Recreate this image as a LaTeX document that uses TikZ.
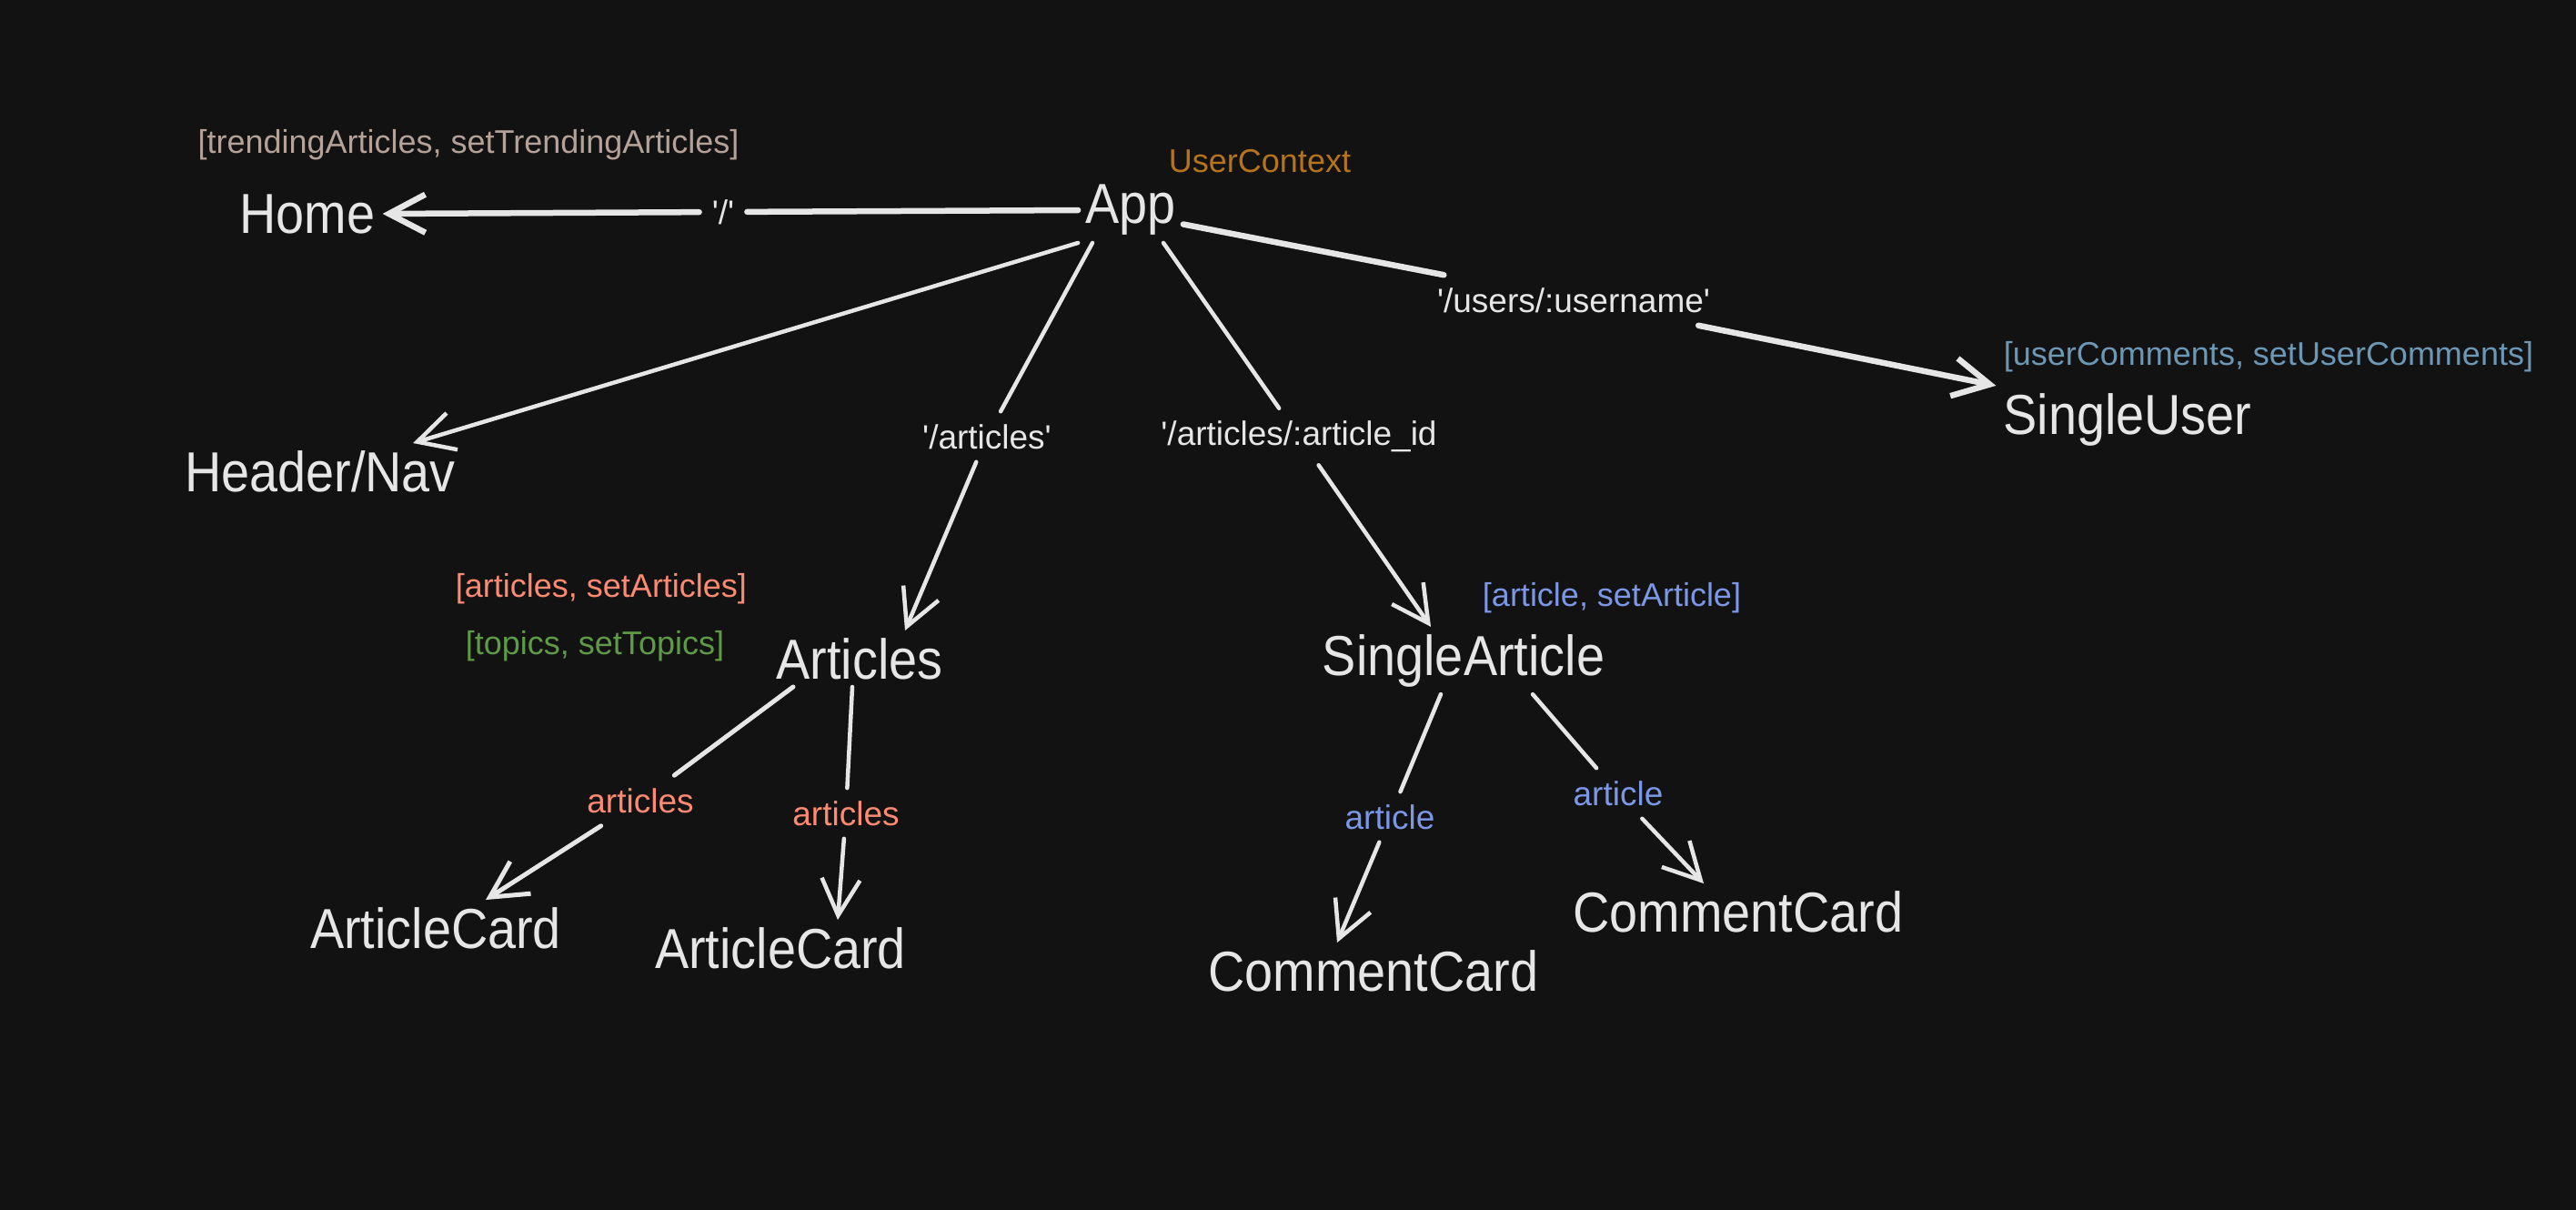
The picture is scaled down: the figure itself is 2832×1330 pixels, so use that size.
\documentclass[tikz,border=0pt]{standalone}
\usepackage{fontspec}
\setmainfont{Liberation Sans}
\newfontfamily\compfont{Liberation Sans}[FakeStretch=0.9]
\usetikzlibrary{arrows.meta}

\definecolor{bgcol}{HTML}{121212}
\definecolor{inkcol}{HTML}{E6E6E6}
\definecolor{ctxcol}{HTML}{B5731C}
\definecolor{trendcol}{HTML}{B4A298}
\definecolor{ucomcol}{HTML}{6C98B6}
\definecolor{artcol}{HTML}{FF8A72}
\definecolor{topcol}{HTML}{5E9A47}
\definecolor{onecol}{HTML}{7C97E6}

\newcommand{\sq}{\textquotesingle}

\tikzset{
  comp/.style={text=inkcol, inner sep=8pt, font=\compfont\fontsize{62}{68}\selectfont},
  route/.style={text=inkcol, inner sep=14pt, font=\fontsize{37}{42}\selectfont},
  hook/.style={inner sep=0pt, font=\fontsize{36}{40}\selectfont},
  conn/.style={draw=inkcol, line width=4.5pt, line cap=round,
    -{Straight Barb[length=40pt,width=42pt]}},
}

\begin{document}
\begin{tikzpicture}[x=1pt,y=-1pt]
  \fill[bgcol] (0,0) rectangle (2832,1330);
  \useasboundingbox (0,0) rectangle (2832,1330);

  \def \Comps {
    app/1243/231/App,
    home/338/235/Home,
    hdr/352/518/{Header/Nav},
    suser/2339/461/SingleUser,
    arts/945/724/Articles,
    sart/1609/726/SingleArticle,
    acard1/479/1020/ArticleCard,
    acard2/858/1042/ArticleCard,
    ccard1/1510/1067/CommentCard,
    ccard2/1911/1002/CommentCard}
  \foreach \id / \x / \y / \w in \Comps {
    \node[comp] (\id) at (\x, \y) {\w};
  }

  % state and context
  \node[hook, text=ctxcol] (ctx) at (1385,177) {UserContext};
  \node[hook, text=trendcol] (homest) at (515,159) {[trendingArticles, setTrendingArticles]};
  \node[hook, text=ucomcol] (userst) at (2494,392) {[userComments, setUserComments]};
  \node[hook, text=artcol] (artsst) at (661,647) {[articles, setArticles]};
  \node[hook, text=topcol] (topst) at (654,710) {[topics, setTopics]};
  \node[hook, text=onecol] (sartst) at (1772,657) {[article, setArticle]};

  % routes and props
  \node[route] (rhome) at (795,233) {\sq/\sq};
  \node[route] (rusers) at (1730,330) {\sq/users/:username\sq};
  \node[route] (rarts) at (1085,480) {\sq/articles\sq};
  \node[route] (rsart) at (1428,480) {\sq/articles/:article\_id};
  \node[route, text=artcol] (parts1) at (704,880) {articles};
  \node[route, text=artcol] (parts2) at (930,894) {articles};
  \node[route, text=onecol] (psart1) at (1528,898) {article};
  \node[route, text=onecol] (psart2) at (1779,872) {article};

  \def \Edges {
    app/west/0/rhome/home/east/0/6.5,
    app/-15/0/rusers/suser/north west/0/6.5,
    app/south/-42/rarts/arts/north/50/4.5,
    app/south/36/rsart/sart/north/-36/4.5,
    arts/south/-73/parts1/acard1/north/55/5,
    arts/south/-8/parts2/acard2/north/63/4.5,
    sart/south/-25/psart1/ccard1/north/-40/4.5,
    sart/south/76/psart2/ccard2/north/-38/4.5}
  \foreach \fromN / \fromA / \fromX / \via / \toN / \toA / \toX / \lw in \Edges {
    \draw[conn, line width=\lw pt] ([xshift=\fromX pt]\fromN.\fromA) -- (\via) -- ([xshift=\toX pt]\toN.\toA);
  }
  \draw[conn] (app.south west) -- ([xshift=-55pt]hdr.north east);
\end{tikzpicture}
\end{document}
